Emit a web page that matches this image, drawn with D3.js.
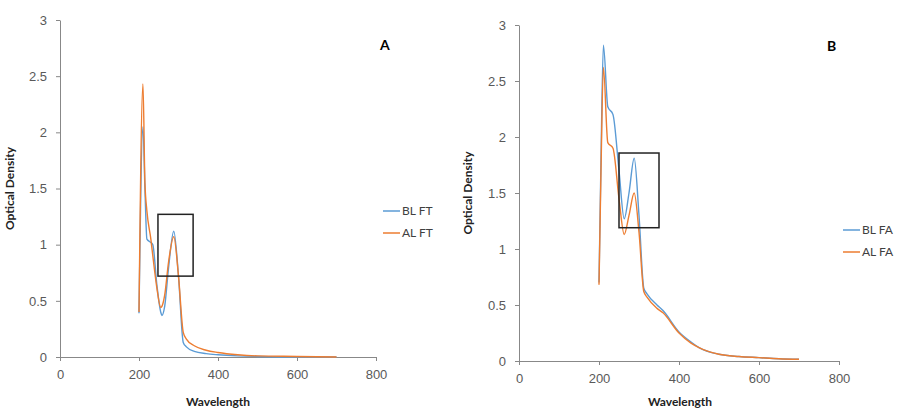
<!DOCTYPE html>
<html>
<head>
<meta charset="utf-8">
<script src="https://cdn.jsdelivr.net/npm/d3@7"></script>
<style>
  body { margin: 0; background: #fff; }
  svg { font-family: Lato, "Open Sans", sans-serif; }
  .axis path, .axis line { stroke: #888; }
  .axis text { fill: #595959; font-size: 13px; }
  .title { font-weight: bold; fill: #222; font-size: 12px; }
  .legend text { fill: #404040; font-size: 12px; }
</style>
</head>
<body>
<svg id="chart" width="924" height="410"></svg>
<script>
// panel A
var wlA = [200, 210, 215, 220, 230, 235, 245, 255, 258, 265, 275, 288, 300, 312, 320, 340, 370, 400, 450, 500, 600, 700];
var blFT = [0.39, 2.05, 1.5, 1.05, 1.02, 1.0, 0.65, 0.4, 0.37, 0.45, 0.8, 1.12, 0.72, 0.13, 0.09, 0.05, 0.03, 0.02, 0.01, 0.005, 0, 0];
var alFT = [0.4, 2.43, 1.55, 1.3, 1.05, 0.9, 0.62, 0.44, 0.45, 0.55, 0.85, 1.07, 0.72, 0.22, 0.16, 0.1, 0.06, 0.04, 0.02, 0.01, 0.005, 0];
// panel B
var wlB = [200, 205, 211, 222, 235, 250, 263, 275, 288, 300, 312, 320, 345, 360, 400, 430, 450, 500, 550, 600, 650, 700];
var blFA = [0.7, 1.8, 2.82, 2.27, 2.2, 1.7, 1.27, 1.5, 1.81, 1.3, 0.65, 0.6, 0.5, 0.45, 0.26, 0.17, 0.12, 0.06, 0.04, 0.03, 0.02, 0.015];
var alFA = [0.68, 1.7, 2.62, 1.95, 1.9, 1.45, 1.13, 1.3, 1.5, 1.15, 0.62, 0.57, 0.47, 0.43, 0.25, 0.16, 0.12, 0.06, 0.04, 0.03, 0.02, 0.015];

var xTicks = [0, 200, 400, 600, 800];
var yTicks = [0, 0.5, 1, 1.5, 2, 2.5, 3];
var blue = "#5b9bd5", orange = "#ed7d31";

var svg = d3.select("#chart");

panel({L: 60, R: 376, T: 20, B: 357}, wlA,
  [{name: "BL FT", v: blFT, c: blue}, {name: "AL FT", v: alFT, c: orange}],
  "A", {x: 380, y: 50}, [248, 337, 0.72, 1.27], {x: 383, y: 211}, 14, 218);

panel({L: 519, R: 839, T: 25, B: 361}, wlB,
  [{name: "BL FA", v: blFA, c: blue}, {name: "AL FA", v: alFA, c: orange}],
  "B", {x: 827, y: 51}, [250, 350, 1.19, 1.857], {x: 843, y: 230}, 472, 680);

function panel(geom, wl, series, label, labelPos, box, legPos, yTitleX, xTitleX) {
  var g = svg.append("g");

  var x = d3.scaleLinear().domain([0, 800]).range([geom.L, geom.R]);
  var y = d3.scaleLinear().domain([0, 3]).range([geom.B, geom.T]);

  g.append("g")
    .attr("class", "axis")
    .attr("transform", "translate(0," + geom.B + ")")
    .call(d3.axisBottom(x).tickValues(xTicks).tickSize(4).tickSizeOuter(0).tickPadding(9));

  g.append("g")
    .attr("class", "axis")
    .attr("transform", "translate(" + geom.L + ",0)")
    .call(d3.axisLeft(y).tickValues(yTicks).tickSize(4).tickSizeOuter(0).tickPadding(9)
      .tickFormat(function(d) {return d;}));

  var line = d3.line()
    .x(function(d, i) {return x(wl[i]);})
    .y(function(d) {return y(d);})
    .curve(d3.curveMonotoneX);

  series.forEach(function(s) {
    g.append("path")
      .datum(s.v)
      .style("fill", "none")
      .style("stroke", s.c)
      .style("stroke-width", 1.4)
      .attr("d", line);
  });

  // highlight box
  g.append("rect")
    .attr("x", x(box[0]))
    .attr("y", y(box[3]))
    .attr("width", x(box[1]) - x(box[0]))
    .attr("height", y(box[2]) - y(box[3]))
    .style("fill", "none")
    .style("stroke", "#222")
    .style("stroke-width", 1.5);

  g.append("text")
    .attr("x", labelPos.x)
    .attr("y", labelPos.y)
    .style("font-weight", "bold")
    .style("font-size", "14px")
    .text(label);

  var leg = g.append("g").attr("class", "legend");
  series.forEach(function(s, i) {
    leg.append("line")
      .attr("x1", legPos.x).attr("x2", legPos.x + 17)
      .attr("y1", legPos.y + i * 22).attr("y2", legPos.y + i * 22)
      .style("stroke", s.c).style("stroke-width", 1.5);
    leg.append("text")
      .attr("x", legPos.x + 19)
      .attr("y", legPos.y + i * 22 + 4)
      .text(s.name);
  });

  g.append("text")
    .attr("class", "title")
    .attr("transform", "translate(" + yTitleX + "," + (geom.T + geom.B) / 2 + ") rotate(-90)")
    .attr("text-anchor", "middle")
    .text("Optical Density");

  g.append("text")
    .attr("class", "title")
    .attr("x", xTitleX)
    .attr("y", 406)
    .attr("text-anchor", "middle")
    .text("Wavelength");
}
</script>
</body>
</html>
